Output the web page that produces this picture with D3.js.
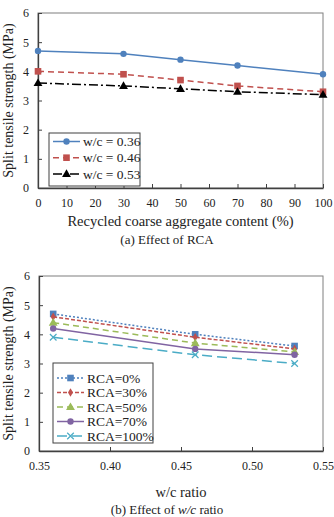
<!DOCTYPE html>
<html>
<head>
<meta charset="utf-8">
<script src="https://cdn.jsdelivr.net/npm/d3@7"></script>
<style>
  body { margin: 0; background: #fff; }
  svg text { font-family: "Liberation Serif", "Times New Roman", "DejaVu Serif", serif !important; }
</style>
</head>
<body>
<svg id="chart" width="334" height="517"></svg>
<script>
// chart (a): strength vs RCA content
var rcaContent = [0, 30, 50, 70, 100];
var wc036 = [4.7, 4.6, 4.4, 4.2, 3.9];
var wc046 = [4.0, 3.9, 3.7, 3.5, 3.3];
var wc053 = [3.6, 3.5, 3.4, 3.3, 3.2];
var xTicksA = [0, 10, 20, 30, 40, 50, 60, 70, 80, 90, 100];

// chart (b): strength vs w/c ratio
var wcRatio = [0.36, 0.46, 0.53];
var rca0 = [4.7, 4.0, 3.6];
var rca30 = [4.6, 3.9, 3.5];
var rca50 = [4.4, 3.7, 3.4];
var rca70 = [4.2, 3.5, 3.3];
var rca100 = [3.9, 3.3, 3.0];
var xTicksB = [0.35, 0.40, 0.45, 0.50, 0.55];
var yTicks = [0, 1, 2, 3, 4, 5, 6];

var serif = "'Liberation Serif', 'Times New Roman', serif";
var svg = d3.select("#chart");

var seriesA = [
  { name: "w/c = 0.36", values: wc036, color: "#4F81BD", dash: null, marker: "circle" },
  { name: "w/c = 0.46", values: wc046, color: "#C0504D", dash: "6,4", marker: "square" },
  { name: "w/c = 0.53", values: wc053, color: "#000000", dash: "9,3,2,3", marker: "triangle" }
];

var seriesB = [
  { name: "RCA=0%", values: rca0, color: "#4F81BD", dash: "2,2", marker: "square" },
  { name: "RCA=30%", values: rca30, color: "#C0504D", dash: "4,2", marker: "diamond" },
  { name: "RCA=50%", values: rca50, color: "#9BBB59", dash: "6,4", marker: "triangle" },
  { name: "RCA=70%", values: rca70, color: "#8064A2", dash: null, marker: "circle" },
  { name: "RCA=100%", values: rca100, color: "#4BACC6", dash: "10,5", marker: "cross" }
];

function drawMarker(g, type, x, y, color) {
  if (type == "circle") {
    g.append("circle").attr("cx", x).attr("cy", y).attr("r", 3.2).attr("fill", color);
  } else if (type == "square") {
    g.append("rect").attr("x", x - 3.3).attr("y", y - 3.3).attr("width", 6.6).attr("height", 6.6).attr("fill", color);
  } else if (type == "triangle") {
    g.append("path").attr("d", d3.symbol(d3.symbolTriangle, 34)()).attr("transform", "translate(" + x + "," + (y + 0.5) + ")").attr("fill", color);
  } else if (type == "diamond") {
    g.append("path").attr("d", d3.symbol(d3.symbolDiamond, 22)()).attr("transform", "translate(" + x + "," + y + ")").attr("fill", color);
  } else if (type == "cross") {
    g.append("path").attr("d", d3.symbol(d3.symbolX, 30)()).attr("transform", "translate(" + x + "," + y + ")")
      .attr("fill", "none").attr("stroke", color).attr("stroke-width", 1.2);
  }
}

function drawPanel(opts) {
  var left = opts.left, right = opts.right, top = opts.top, bottom = opts.bottom;
  var g = svg.append("g");

  var x = d3.scaleLinear().domain(opts.xDomain).range([left, right]);
  var y = d3.scaleLinear().domain([0, 6]).range([bottom, top]);

  // frame
  g.append("rect").attr("x", left).attr("y", top).attr("width", right - left).attr("height", bottom - top)
    .attr("fill", "none").attr("stroke", "#7f7f7f").attr("stroke-width", 1);

  var xAxis = g.append("g").attr("transform", "translate(0," + bottom + ")")
    .call(d3.axisBottom(x).tickValues(opts.xTicks).tickSizeInner(-4).tickSizeOuter(0).tickPadding(10).tickFormat(opts.xFormat));
  var yAxis = g.append("g").attr("transform", "translate(" + left + ",0)")
    .call(d3.axisLeft(y).tickValues(yTicks).tickSizeInner(-4).tickSizeOuter(0).tickPadding(9).tickFormat(d3.format("d")));

  [xAxis, yAxis].forEach(function (a) {
    a.attr("font-family", serif).attr("font-size", 12);
    a.select(".domain").attr("stroke", "#404040").attr("stroke-width", 1.3);
    a.selectAll(".tick line").attr("stroke", "#404040");
    a.selectAll(".tick text").attr("fill", "#222");
  });

  // series
  var line = d3.line().x(function (d) { return x(d[0]); }).y(function (d) { return y(d[1]); });
  opts.series.forEach(function (s) {
    var pts = opts.xValues.map(function (v, i) { return [v, s.values[i]]; });
    g.append("path").datum(pts).attr("d", line).attr("fill", "none")
      .attr("stroke", s.color).attr("stroke-width", 1.5)
      .attr("stroke-dasharray", s.dash);
    pts.forEach(function (p) { drawMarker(g, s.marker, x(p[0]), y(p[1]), s.color); });
  });

  // legend
  var lg = g.append("g");
  lg.append("rect").attr("x", opts.legend.x).attr("y", opts.legend.y)
    .attr("width", opts.legend.w).attr("height", opts.legend.h)
    .attr("fill", "#fff").attr("stroke", "#404040").attr("stroke-width", 1);
  opts.series.forEach(function (s, i) {
    var ly = opts.legend.y + opts.legend.first + i * opts.legend.step;
    var lx = opts.legend.x + 4;
    lg.append("line").attr("x1", lx).attr("x2", lx + 27).attr("y1", ly).attr("y2", ly)
      .attr("stroke", s.color).attr("stroke-width", 1.5).attr("stroke-dasharray", s.dash);
    drawMarker(lg, s.marker, lx + 13.5, ly, s.color);
    lg.append("text").attr("x", lx + 30).attr("y", ly).attr("dy", "0.35em")
      .attr("font-family", serif).attr("font-size", 13.5).attr("fill", "#222").text(s.name);
  });

  // y title
  g.append("text").attr("transform", "translate(13," + ((top + bottom) / 2) + ") rotate(-90)")
    .attr("text-anchor", "middle").attr("font-family", serif).attr("font-size", 14).attr("fill", "#222")
    .text("Split tensile strength (MPa)");

  // x title
  g.append("text").attr("x", (left + right) / 2).attr("y", opts.xTitleY)
    .attr("text-anchor", "middle").attr("font-family", serif).attr("font-size", 14.5).attr("fill", "#222")
    .text(opts.xTitle);

  return g;
}

drawPanel({
  left: 38, right: 323, top: 13, bottom: 188,
  xDomain: [0, 100], xTicks: xTicksA, xFormat: d3.format("d"),
  xValues: rcaContent, series: seriesA,
  legend: { x: 49, y: 133, w: 91, h: 53, first: 8.5, step: 16.2 },
  xTitle: "Recycled coarse aggregate content (%)", xTitleY: 226
});

drawPanel({
  left: 39, right: 323, top: 276, bottom: 451,
  xDomain: [0.35, 0.55], xTicks: xTicksB, xFormat: d3.format(".2f"),
  xValues: wcRatio, series: seriesB,
  legend: { x: 53, y: 363, w: 100, h: 80, first: 15, step: 14.5 },
  xTitle: "w/c ratio", xTitleY: 497
});

// captions
svg.append("text").attr("x", 167).attr("y", 244).attr("text-anchor", "middle")
  .attr("font-family", serif).attr("font-size", 13).attr("fill", "#222").text("(a) Effect of RCA");

var capB = svg.append("text").attr("x", 167).attr("y", 514).attr("text-anchor", "middle")
  .attr("font-family", serif).attr("font-size", 13).attr("fill", "#222");
capB.append("tspan").text("(b) Effect of ");
capB.append("tspan").attr("font-style", "italic").text("w/c");
capB.append("tspan").text(" ratio");
</script>
</body>
</html>
